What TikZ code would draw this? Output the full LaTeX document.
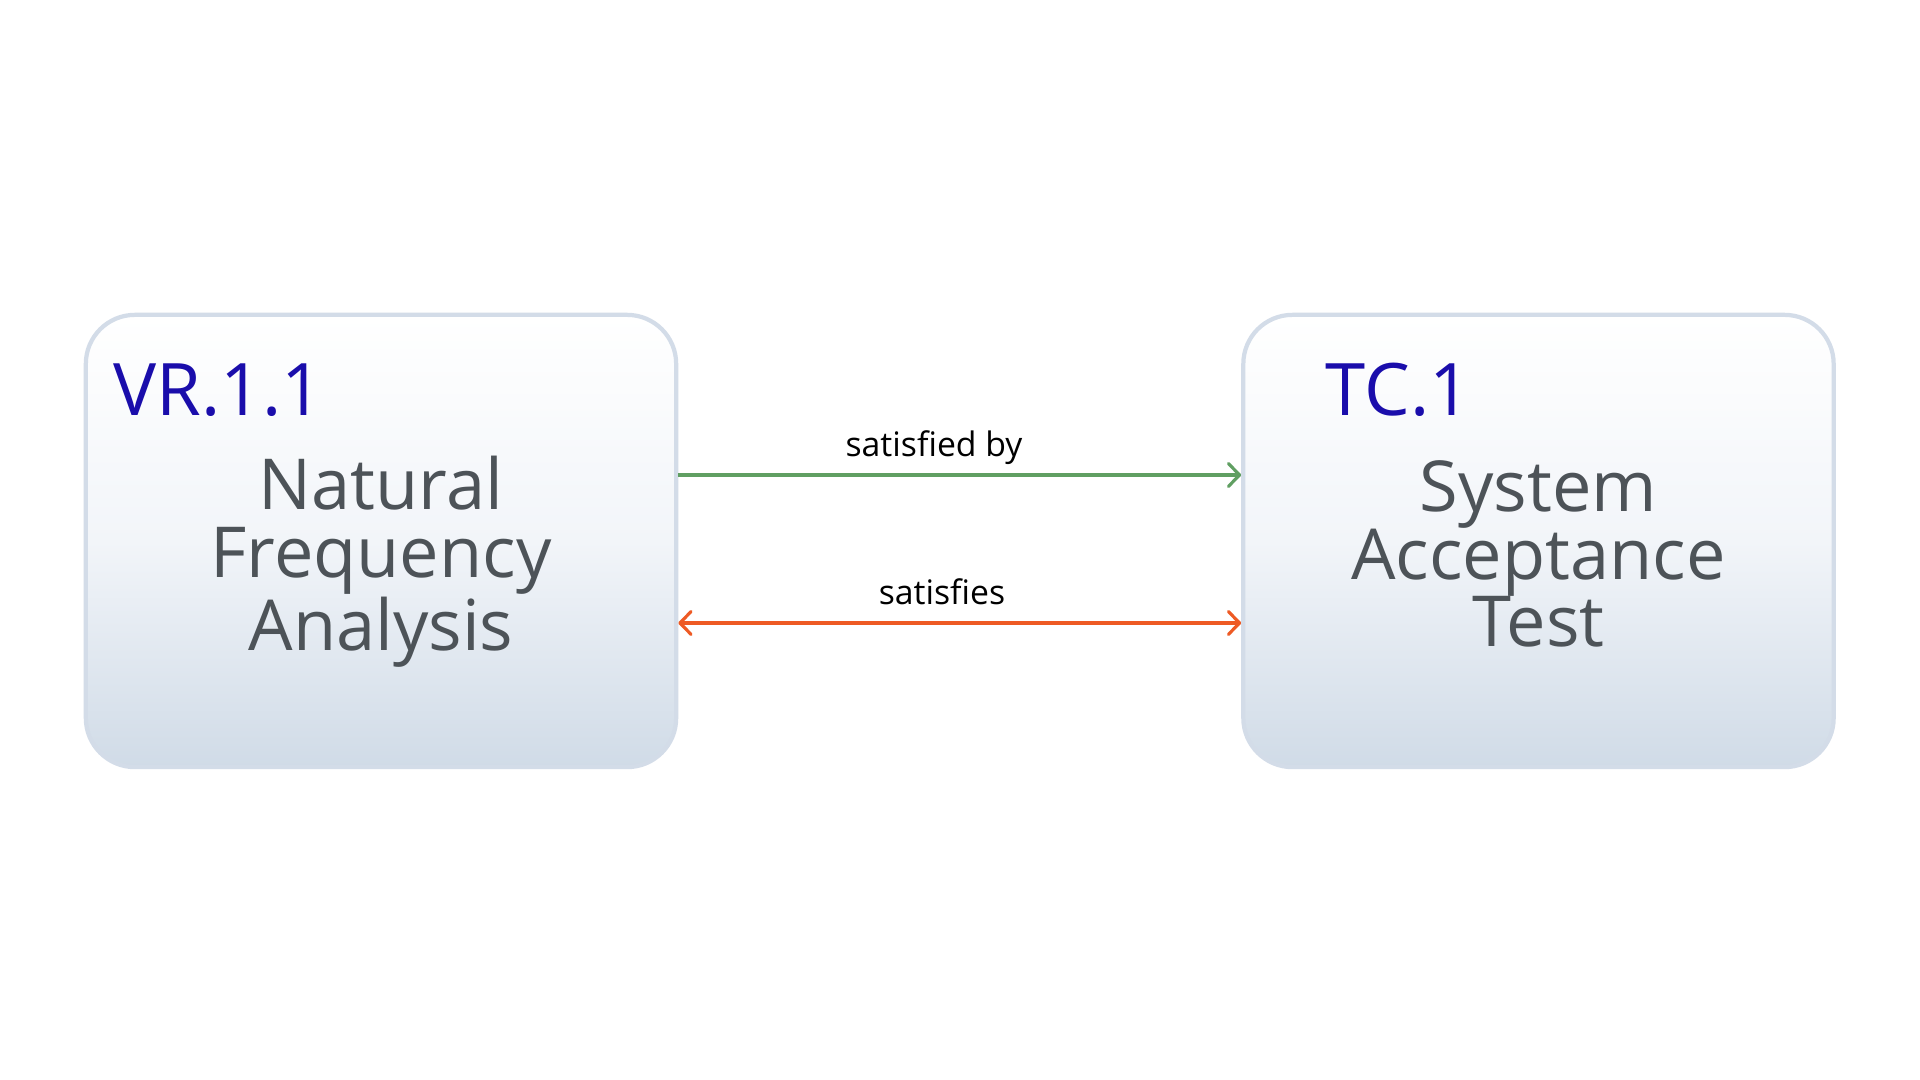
\documentclass[tikz,border=0pt]{standalone}
\usepackage{fontspec}
\setmainfont{Open Sans}
\usetikzlibrary{arrows.meta}
\definecolor{idblue}{HTML}{1A0DAB}
\definecolor{bodygray}{HTML}{4D5358}
\definecolor{boxline}{HTML}{D3DCE8}
\definecolor{boxbot}{HTML}{D0DBE7}
\definecolor{boxmid}{HTML}{F2F5F9}
\definecolor{linkgreen}{HTML}{609F62}
\definecolor{linkorange}{HTML}{EE5A24}
\tikzset{
  barbtip/.tip={Straight Barb[length=3.2pt,width=6.5pt,round]},
  card/.style={draw=boxline, line width=1.2pt, rounded corners=0.49cm,
    minimum width=5.9cm, minimum height=4.52cm, inner sep=0pt,
    top color=white, bottom color=boxbot, middle color=boxmid},
  idtext/.style={anchor=base west, text=idblue, inner sep=0pt,
    font=\fontsize{20.6}{24}\selectfont},
  bodytext/.style={anchor=center, text=bodygray, align=center, inner sep=0pt,
    font=\fontsize{20}{19.2}\selectfont},
  linklabel/.style={anchor=base, text=black, inner sep=0pt,
    font=\fontsize{9.6}{11}\selectfont},
  greenlink/.style={draw=linkgreen, line width=0.9pt, -barbtip},
  orangelink/.style={draw=linkorange, line width=0.9pt, barbtip-barbtip}
}
\begin{document}
\begin{tikzpicture}[x=0.01cm,y=-0.01cm]
\useasboundingbox[fill=white] (0,0) rectangle (1920,1080);
\node[card] (vr) at (381,541) {};
\node[card] (tc) at (1538.5,541) {};
\node[idtext] (vrid) at (113,416) {VR.1.1};
\node[idtext] (tcid) at (1325,416) {TC.1};
\node[bodytext] (vrbody) at (381,562) {Natural\\Frequency\\Analysis};
\node[bodytext] (tcbody) at (1538.5,562) {System\\Acceptance\\Test\vphantom{y}};
\coordinate (g1) at (vr.east |- 0,475);
\coordinate (g2) at (tc.west |- 0,475);
\coordinate (o1) at (vr.east |- 0,623);
\coordinate (o2) at (tc.west |- 0,623);
\draw[greenlink] (g1) -- (g2);
\draw[orangelink] (o1) -- (o2);
\node[linklabel] (lg) at (934,457) {satisfied by};
\node[linklabel] (lo) at (942,605) {satisfies};
\end{tikzpicture}
\end{document}
